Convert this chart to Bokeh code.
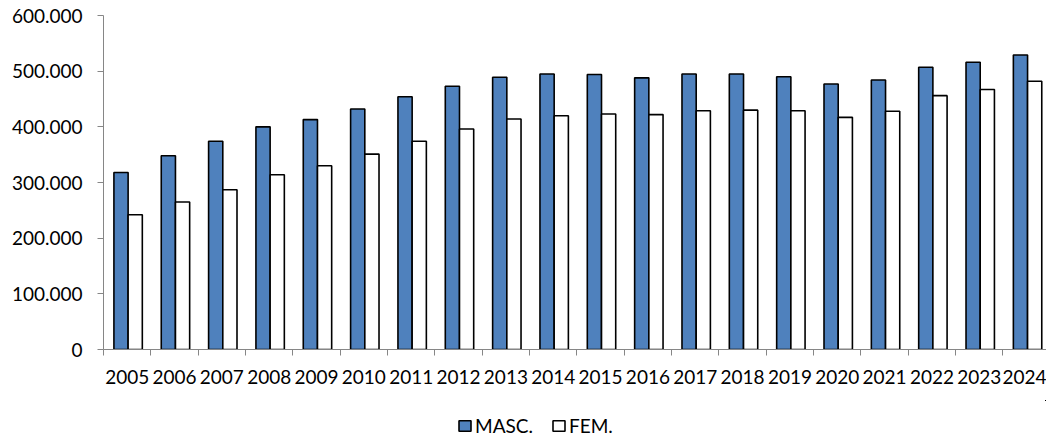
from bokeh.plotting import figure
from bokeh.layouts import column
from bokeh.models import ColumnDataSource, Range1d, FixedTicker, Legend, LegendItem
from bokeh.embed import file_html
from bokeh.resources import INLINE

years = ["2005", "2006", "2007", "2008", "2009", "2010", "2011", "2012", "2013", "2014",
         "2015", "2016", "2017", "2018", "2019", "2020", "2021", "2022", "2023", "2024"]
masc = [318000, 348000, 374000, 400000, 413000, 432000, 454000, 473000, 489000, 495000,
        494000, 488000, 495000, 495000, 490000, 477000, 484000, 507000, 516000, 529000]
fem = [242000, 265000, 287000, 314000, 330000, 351000, 374000, 396000, 414000, 420000,
       423000, 422000, 429000, 430000, 429000, 417000, 428000, 456000, 467000, 482000]
y_ticks = [0, 100000, 200000, 300000, 400000, 500000, 600000]
y_tick_labels = ["0", "100.000", "200.000", "300.000", "400.000", "500.000", "600.000"]
series_names = ["MASC.", "FEM."]

FONT = "Lato"
BLUE = "#4F81BD"
AXIS = "#868686"

idx = list(range(len(years)))
src = ColumnDataSource(dict(
    x_m=[i + 0.37 for i in idx],
    x_f=[i + 0.67 for i in idx],
    masc=masc,
    fem=fem,
))

p = figure(width=1046, height=400, output_backend="svg", toolbar_location=None,
           x_range=Range1d(0, 19.92), y_range=Range1d(0, 600000),
           min_border_left=103, min_border_right=0, min_border_top=15, min_border_bottom=51)
p.outline_line_color = None
p.xgrid.visible = False
p.ygrid.visible = False

r_m = p.vbar(x="x_m", top="masc", bottom=0, width=0.3, source=src,
             fill_color=BLUE, line_color="black", line_width=1.6)
r_f = p.vbar(x="x_f", top="fem", bottom=0, width=0.3, source=src,
             fill_color="white", line_color="black", line_width=1.6)

xa = p.xaxis[0]
xa.ticker = FixedTicker(ticks=[i + 0.5 for i in idx], minor_ticks=list(range(len(years) + 1)))
xa.major_label_overrides = {i + 0.5: y for i, y in zip(idx, years)}
xa.major_tick_out = 0
xa.major_tick_in = 0
xa.minor_tick_out = 6
xa.minor_tick_in = 0
xa.minor_tick_line_color = AXIS
xa.axis_line_color = AXIS
xa.major_label_text_font = FONT
xa.major_label_text_font_size = "19px"
xa.major_label_text_color = "black"
xa.major_label_standoff = 14

ya = p.yaxis[0]
ya.ticker = FixedTicker(ticks=y_ticks)
ya.major_label_overrides = {t: l for t, l in zip(y_ticks, y_tick_labels)}
ya.major_tick_out = 6
ya.major_tick_in = 0
ya.major_tick_line_color = AXIS
ya.minor_tick_line_color = None
ya.axis_line_color = AXIS
ya.major_label_text_font = FONT
ya.major_label_text_font_size = "19px"
ya.major_label_text_color = "black"
ya.major_label_standoff = 15

# legend strip below the chart (its swatch renderers use the same series, kept out of view)
p2 = figure(width=1046, height=39, output_backend="svg", toolbar_location=None,
            x_range=Range1d(-101, -100), y_range=Range1d(-2, -1),
            x_axis_location=None, y_axis_location=None,
            min_border_left=0, min_border_right=0, min_border_top=0, min_border_bottom=0)
p2.outline_line_color = None
p2.xgrid.visible = False
p2.ygrid.visible = False
s_m = p2.vbar(x="x_m", top="masc", bottom=0, width=0.3, source=src,
              fill_color=BLUE, line_color="black", line_width=1.6)
s_f = p2.vbar(x="x_f", top="fem", bottom=0, width=0.3, source=src,
              fill_color="white", line_color="black", line_width=1.6)
legend = Legend(items=[LegendItem(label=series_names[0], renderers=[s_m]),
                       LegendItem(label=series_names[1], renderers=[s_f])],
                orientation="horizontal", location=(354, 2),
                glyph_width=15, glyph_height=13, label_standoff=3, spacing=18,
                padding=0, margin=0, border_line_color=None, background_fill_alpha=0,
                label_text_font=FONT, label_text_font_size="19px", label_text_color="black")
p2.add_layout(legend)

layout = column(p, p2, spacing=0)
open("out.html", "w").write(file_html(layout, INLINE))
